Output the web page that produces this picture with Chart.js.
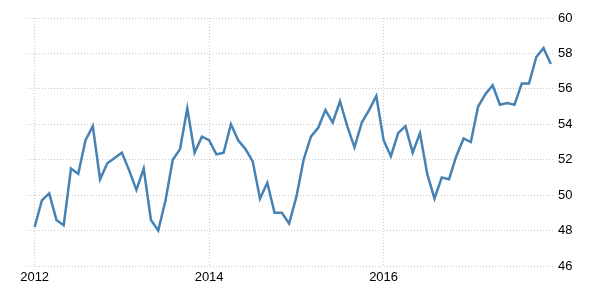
<!DOCTYPE html>
<html lang="en">
<head>
    <meta charset="UTF-8">
    <title>Index</title>
    <script src="https://cdn.jsdelivr.net/npm/chart.js"></script>
    <style>
        html, body { margin: 0; padding: 0; background: #fff; }
        .chart-box { width: 600px; height: 300px; }
    </style>
</head>
<body>
    <div class="chart-box">
        <canvas id="indexChart" width="600" height="300"></canvas>
    </div>

    <script>
        // monthly readings, Jan 2012 - Dec 2017
        const values2012 = [48.2, 49.7, 50.1, 48.6, 48.3, 51.5, 51.2, 53.1, 53.9, 50.9, 51.8, 52.1];
        const values2013 = [52.4, 51.4, 50.3, 51.5, 48.6, 48.0, 49.7, 52.0, 52.6, 54.9, 52.4, 53.3];
        const values2014 = [53.1, 52.3, 52.4, 54.0, 53.1, 52.6, 51.9, 49.8, 50.7, 49.0, 49.0, 48.4];
        const values2015 = [49.9, 52.0, 53.3, 53.8, 54.8, 54.1, 55.3, 53.9, 52.7, 54.1, 54.8, 55.6];
        const values2016 = [53.1, 52.2, 53.5, 53.9, 52.4, 53.5, 51.2, 49.8, 51.0, 50.9, 52.2, 53.2];
        const values2017 = [53.0, 55.0, 55.7, 56.2, 55.1, 55.2, 55.1, 56.3, 56.3, 57.8, 58.3, 57.4];

        const yearLabels = ['2012', '2014', '2016'];
        const yTicks = [46, 48, 50, 52, 54, 56, 58, 60];

        const values = [].concat(values2012, values2013, values2014, values2015, values2016, values2017);
        const points = values.map((v, i) => ({ x: i, y: v }));

        const gridColor = '#c8c8c8';
        const font = { family: '"Liberation Sans Narrow", "Liberation Sans", Arial, sans-serif', size: 13 };

        new Chart(document.getElementById('indexChart'), {
            type: 'line',
            data: {
                datasets: [{
                    data: points,
                    borderColor: '#4682b4',
                    borderWidth: 2.5,
                    pointRadius: 0,
                    tension: 0,
                    fill: false
                }]
            },
            options: {
                responsive: false,
                animation: false,
                maintainAspectRatio: false,
                layout: { padding: { left: 27, top: 18, right: 0, bottom: 0 } },
                plugins: { legend: { display: false }, tooltip: { enabled: false } },
                scales: {
                    x: {
                        type: 'linear',
                        min: -1.05,
                        max: 71.3,
                        afterBuildTicks: axis => {
                            axis.ticks = yearLabels.map((l, i) => ({ value: i * 24 }));
                        },
                        afterFit: axis => { axis.height = 34; },
                        ticks: {
                            color: '#000',
                            font: font,
                            padding: 4,
                            maxRotation: 0,
                            autoSkip: false,
                            callback: (v) => yearLabels[Math.round(v / 24)]
                        },
                        grid: { color: gridColor, drawTicks: false },
                        border: { display: false, dash: [1, 2] }
                    },
                    y: {
                        position: 'right',
                        min: 46,
                        max: 60,
                        afterBuildTicks: axis => {
                            axis.ticks = yTicks.map(v => ({ value: v }));
                        },
                        afterFit: axis => { axis.width = 47; },
                        ticks: { color: '#000', font: font, padding: 5, autoSkip: false },
                        grid: { color: gridColor, drawTicks: false },
                        border: { display: false, dash: [1, 2] }
                    }
                }
            }
        });
    </script>
</body>
</html>
